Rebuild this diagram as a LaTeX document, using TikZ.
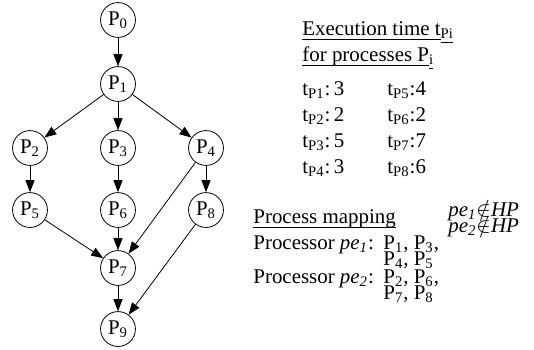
\documentclass[tikz,border=0pt]{standalone}
\usepackage{fontspec}
\setmainfont{Liberation Serif}
\usetikzlibrary{arrows.meta}
\newcommand{\ulin}[1]{\underline{\raisebox{0pt}[\height][0.6pt]{#1}}}
\tikzset{proc/.style={draw,circle,minimum size=17.5pt,inner sep=0pt,font=\fontsize{10.5}{12}\selectfont},
  arr/.style={-{Triangle[length=6pt,width=4.5pt]}},
  txt/.style={anchor=base west,inner sep=0pt,font=\fontsize{10.5}{12}\selectfont}}
\begin{document}
\begin{tikzpicture}[x=0.5bp,y=-0.5bp]
            \useasboundingbox (0,0) rectangle (534,349);
            \node[proc] (p0) at (118,20) {P\textsubscript{0}};
            \node[proc] (p1) at (118,84) {P\textsubscript{1}};
            \node[proc] (p2) at (30,148) {P\textsubscript{2}};
            \node[proc] (p3) at (118,148) {P\textsubscript{3}};
            \node[proc] (p4) at (206,148) {P\textsubscript{4}};
            \node[proc] (p5) at (30,210) {P\textsubscript{5}};
            \node[proc] (p6) at (118,210) {P\textsubscript{6}};
            \node[proc] (p8) at (206,210) {P\textsubscript{8}};
            \node[proc] (p7) at (118,268) {P\textsubscript{7}};
            \node[proc] (p9) at (118,329) {P\textsubscript{9}};
            \draw [arr] (p0)--(p1);
            \draw [arr] (p1)--(p2);
            \draw [arr] (p1)--(p3);
            \draw [arr] (p1)--(p4);
            \draw [arr] (p2)--(p5);
            \draw [arr] (p3)--(p6);
            \draw [arr] (p4)--(p8);
            \draw [arr] (p5)--(p7);
            \draw [arr] (p6)--(p7);
            \draw [arr] (p4)--(p7);
            \draw [arr] (p7)--(p9);
            \draw [arr] (p8)--(p9);
            \node[txt] (title1) at (302,35) {\ulin{Execution time t}\textsubscript{\ulin{Pi}}};
            \node[txt] (title2) at (302,61) {\ulin{for processes P}\textsubscript{\ulin{i}}};
            \node[txt] (t1) at (302,95) {t\textsubscript{P1}:\,3};
            \node[txt] (t2) at (302,121) {t\textsubscript{P2}:\,2};
            \node[txt] (t3) at (302,147) {t\textsubscript{P3}:\,5};
            \node[txt] (t4) at (302,173) {t\textsubscript{P4}:\,3};
            \node[txt] (t5) at (387,95) {t\textsubscript{P5}:4};
            \node[txt] (t6) at (387,121) {t\textsubscript{P6}:2};
            \node[txt] (t7) at (387,147) {t\textsubscript{P7}:7};
            \node[txt] (t8) at (387,173) {t\textsubscript{P8}:6};
            \node[txt] (map) at (253,223) {\ulin{Process mapping}};
            \node[txt] (hp1) at (448,216) {\textit{pe}\textsubscript{\textit{1}}$\notin$\textit{HP}};
            \node[txt] (hp2) at (448,232) {\textit{pe}\textsubscript{\textit{2}}$\notin$\textit{HP}};
            \node[txt] (pe1) at (253,249) {Processor \textit{pe}\textsubscript{\textit{1}}:};
            \node[txt] (pe1a) at (383,249) {P\textsubscript{1}, P\textsubscript{3},};
            \node[txt] (pe1b) at (383,265) {P\textsubscript{4}, P\textsubscript{5}};
            \node[txt] (pe2) at (253,283) {Processor \textit{pe}\textsubscript{\textit{2}}:};
            \node[txt] (pe2a) at (383,283) {P\textsubscript{2}, P\textsubscript{6},};
            \node[txt] (pe2b) at (383,299) {P\textsubscript{7}, P\textsubscript{8}};
        \end{tikzpicture}
\end{document}
